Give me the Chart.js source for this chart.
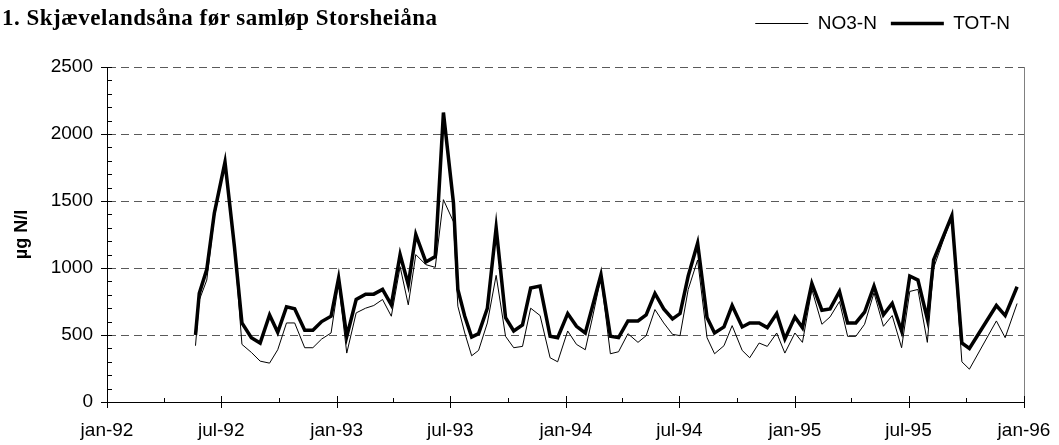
<!DOCTYPE html>
<html>
<head>
<meta charset="utf-8">
<script src="https://cdn.jsdelivr.net/npm/chart.js@4"></script>
<style>
  html, body { margin: 0; padding: 0; background: #fff; }
  #wrap { position: relative; width: 1059px; height: 445px; }
  #title {
    position: absolute; left: 2px; top: 6px;
    font: bold 23px 'Liberation Serif', 'Times New Roman', serif;
    letter-spacing: 0.5px; line-height: 23px; color: #000;
  }
</style>
</head>
<body>
<div id="wrap">
  <canvas id="chart" width="1059" height="445"></canvas>
  <div id="title">1. Skjævelandsåna før samløp Storsheiåna</div>
</div>
<script>
// sampling dates
var sampleDates = [
  '1992-05-21','1992-05-27','1992-06-08','1992-06-20','1992-07-07','1992-07-22','1992-08-03','1992-08-18',
  '1992-09-01','1992-09-16','1992-09-29','1992-10-13','1992-10-26','1992-11-11','1992-11-24','1992-12-08',
  '1992-12-23','1993-01-04','1993-01-17','1993-02-01','1993-02-16','1993-03-01','1993-03-15','1993-03-29',
  '1993-04-12','1993-04-25','1993-05-07','1993-05-23','1993-06-07','1993-06-20','1993-07-06','1993-07-13',
  '1993-07-24','1993-08-04','1993-08-15','1993-08-29','1993-09-12','1993-09-27','1993-10-10','1993-10-24',
  '1993-11-06','1993-11-21','1993-12-07','1993-12-19','1994-01-04','1994-01-18','1994-02-01','1994-02-12',
  '1994-02-26','1994-03-13','1994-03-26','1994-04-10','1994-04-26','1994-05-09','1994-05-23','1994-06-06',
  '1994-06-20','1994-07-02','1994-07-15','1994-07-30','1994-08-14','1994-08-26','1994-09-10','1994-09-23',
  '1994-10-09','1994-10-21','1994-11-05','1994-11-18','1994-12-03','1994-12-16','1995-01-01','1995-01-13',
  '1995-01-28','1995-02-13','1995-02-26','1995-03-13','1995-03-26','1995-04-08','1995-04-22','1995-05-07',
  '1995-05-22','1995-06-05','1995-06-20','1995-07-03','1995-07-16','1995-07-31','1995-08-10','1995-08-25',
  '1995-09-08','1995-09-24','1995-10-06','1995-11-18','1995-12-02','1995-12-21'
];

// NO3-N [µg N/l]
var no3N = [
  420, 760, 910, 1380, 1780, 1160, 430, 370,
  305, 290, 390, 590, 590, 405, 405, 470,
  515, 890, 365, 665, 700, 720, 765, 640,
  1010, 725, 1100, 1025, 1005, 1510, 1345, 715,
  515, 345, 385, 590, 945, 490, 405, 415,
  700, 645, 330, 300, 530, 430, 390, 620,
  930, 360, 375, 510, 445, 495, 690, 590,
  505, 495, 840, 1060, 480, 360, 420, 570,
  385, 330, 440, 415, 515, 365, 515, 445,
  840, 580, 635, 750, 490, 490, 580, 815,
  565, 645, 405, 825, 840, 445, 1000, 1200,
  1380, 300, 245, 605, 480, 735
];

// TOT-N [µg N/l]
var totN = [
  500, 810, 990, 1410, 1790, 1160, 590, 480,
  440, 650, 520, 710, 695, 535, 535, 600,
  640, 925, 490, 765, 805, 805, 840, 725,
  1100, 875, 1250, 1045, 1085, 2160, 1485, 840,
  640, 485, 510, 700, 1300, 630, 530, 575,
  850, 865, 490, 480, 660, 565, 515, 705,
  950, 490, 480, 605, 605, 650, 810, 695,
  620, 660, 940, 1185, 630, 515, 560, 720,
  560, 590, 590, 555, 660, 470, 635, 555,
  885, 685, 695, 825, 590, 590, 670, 865,
  650, 735, 530, 940, 910, 620, 1060, 1230,
  1390, 440, 400, 720, 645, 860
];

// x-axis ticks: jan/jul labelled, apr/oct minor
var xTickDates = [
  '1992-01-01','1992-04-01','1992-07-01','1992-10-01',
  '1993-01-01','1993-04-01','1993-07-01','1993-10-01',
  '1994-01-01','1994-04-01','1994-07-01','1994-10-01',
  '1995-01-01','1995-04-01','1995-07-01','1995-10-01',
  '1996-01-01'
];
var xTickLabels = [
  'jan-92','','jul-92','',
  'jan-93','','jul-93','',
  'jan-94','','jul-94','',
  'jan-95','','jul-95','',
  'jan-96'
];

// date string -> day number
function toDay(s) {
  var p = s.split('-');
  return Date.UTC(+p[0], +p[1] - 1, +p[2]) / 86400000;
}

function toPoints(values) {
  return values.map(function(v, i) { return {x: toDay(sampleDates[i]), y: v}; });
}

var xMin = toDay(xTickDates[0]);
var xMax = toDay(xTickDates[xTickDates.length - 1]);

// axis tick marks: major ticks cross the axis, minor ones point inwards
var axisTicks = {
  id: 'axisTicks',
  afterDraw: function(chart) {
    var ctx = chart.ctx, a = chart.chartArea, x = chart.scales.x, y = chart.scales.y;
    ctx.save();
    ctx.strokeStyle = '#000';
    ctx.lineWidth = 1;
    ctx.beginPath();
    x.ticks.forEach(function(t, i) {
      var px = Math.round(x.getPixelForValue(t.value)) + 0.5;
      var major = xTickLabels[i] !== '';
      ctx.moveTo(px, a.bottom - (major ? 6 : 4));
      ctx.lineTo(px, a.bottom + (major ? 6 : 0));
    });
    y.ticks.forEach(function(t) {
      var py = Math.round(y.getPixelForValue(t.value)) + 0.5;
      var major = t.value % 500 === 0;
      ctx.moveTo(a.left - (major ? 6 : 0), py);
      ctx.lineTo(a.left + 5, py);
    });
    ctx.stroke();
    ctx.restore();
  }
};

// leave a gap between the legend and the plot
var legendGap = {
  id: 'legendGap',
  beforeInit: function(chart) {
    var fit = chart.legend.fit;
    chart.legend.fit = function() {
      fit.bind(chart.legend)();
      this.height += 24;
    };
  }
};

Chart.defaults.font.family = "'Liberation Sans', Arial, sans-serif";
Chart.defaults.color = '#000';

var ctx = document.getElementById('chart').getContext('2d');
var myChart = new Chart(ctx, {
  type: 'line',
  data: {
    datasets: [{
      label: 'NO3-N',
      data: toPoints(no3N),
      borderColor: '#000',
      backgroundColor: '#000',
      borderWidth: 1,
      pointRadius: 0,
      tension: 0,
      fill: false
    }, {
      label: 'TOT-N',
      data: toPoints(totN),
      borderColor: '#000',
      backgroundColor: '#000',
      borderWidth: 3.5,
      pointRadius: 0,
      tension: 0,
      fill: false
    }]
  },
  options: {
    responsive: false,
    animation: false,
    layout: { padding: { top: 0, right: 35, left: 0, bottom: 0 } },
    scales: {
      x: {
        type: 'linear',
        min: xMin,
        max: xMax,
        afterBuildTicks: function(scale) {
          scale.ticks = xTickDates.map(function(d) { return {value: toDay(d)}; });
        },
        afterFit: function(scale) {
          scale.height = 43;
          scale.paddingLeft = 0;
          scale.paddingRight = 0;
        },
        ticks: {
          autoSkip: false,
          maxRotation: 0,
          padding: 17,
          font: { size: 19 },
          callback: function(value, index) { return xTickLabels[index]; }
        },
        grid: {
          drawTicks: false,
          color: function(c) { return c.tick && c.tick.value === xMax ? '#808080' : 'transparent'; }
        },
        border: { display: true, color: '#000', width: 1 }
      },
      y: {
        min: 0,
        max: 2500,
        afterFit: function(scale) { scale.width = 107; },
        ticks: {
          stepSize: 100,
          autoSkip: false,
          padding: 14,
          font: { size: 19 },
          callback: function(v) { return v % 500 === 0 ? v : ''; }
        },
        grid: {
          drawTicks: false,
          color: function(c) {
            var v = c.tick ? c.tick.value : 0;
            return v > 0 && v % 500 === 0 ? '#5a5a5a' : 'transparent';
          }
        },
        border: { display: true, color: '#000', width: 1, dash: [8, 5] },
        title: {
          display: true,
          text: 'µg N/l',
          font: { size: 18, weight: 'bold' },
          padding: { top: 11, bottom: 0 }
        }
      }
    },
    plugins: {
      legend: {
        position: 'top',
        align: 'end',
        fullSize: false,
        labels: {
          usePointStyle: true,
          pointStyle: 'line',
          pointStyleWidth: 53,
          padding: 14,
          font: { size: 19 },
          color: '#000'
        }
      },
      tooltip: { enabled: false }
    }
  },
  plugins: [axisTicks, legendGap]
});
</script>
</body>
</html>
